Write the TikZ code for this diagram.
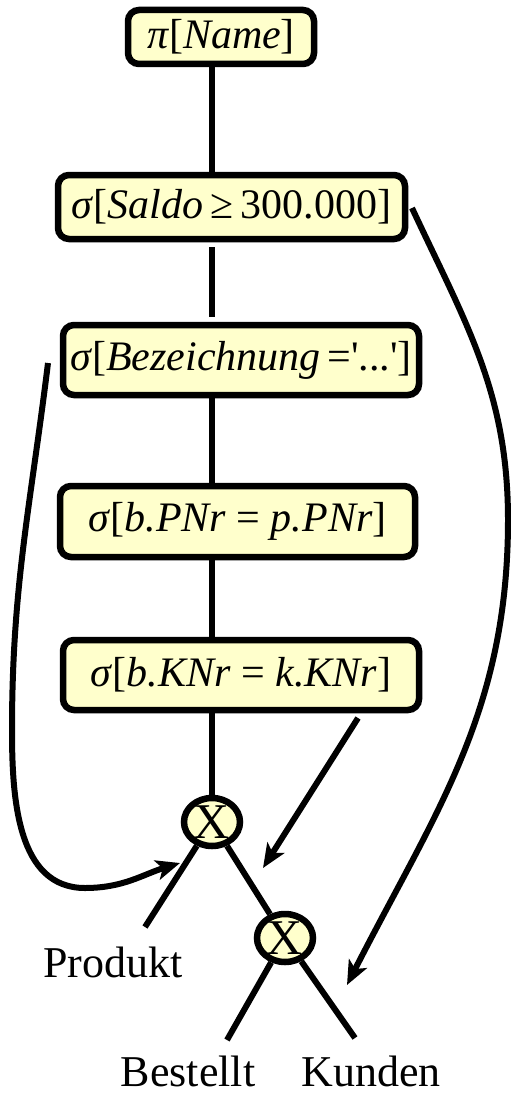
\documentclass[tikz,border=0pt]{standalone}
\usepackage{fontspec}
\setmainfont{Liberation Serif}
\usetikzlibrary{shapes.geometric,arrows.meta}
\definecolor{boxfill}{HTML}{FFFFCC}
\newcommand{\vv}[1]{\textit{#1}}
\newcommand{\sq}{\textquotesingle}
\newcommand{\sig}{\textit{σ}}
\begin{document}
\begin{tikzpicture}[x=1pt,y=-1pt,
  opbox/.style={draw=black,line width=6.5pt,rounded corners=11pt,fill=boxfill,
    inner sep=0pt,font=\fontsize{42}{50}\selectfont},
  xnode/.style={draw=black,line width=6.5pt,ellipse,fill=boxfill,inner sep=0pt,
    minimum width=56pt,minimum height=48pt,font=\fontsize{50}{56}\selectfont},
  leaf/.style={inner sep=0pt,anchor=base,font=\fontsize{44}{52}\selectfont},
  conn/.style={line width=6pt},
  arr/.style={line width=6pt,-{Stealth[length=24pt,width=20pt,inset=6pt]}}]
\useasboundingbox (0,0) rectangle (511,1097);
\node[opbox,minimum width=186pt,minimum height=54pt] (b1) at (221,37) {\textit{π}[\vv{Name}]};
\node[opbox,minimum width=347pt,minimum height=64pt] (b2) at (231.5,207) {\sig[\vv{Saldo}\,≥\,300.000]};
\node[opbox,minimum width=356pt,minimum height=70pt] (b3) at (241,360) {\sig[\vv{Bezeichnung}\,=\sq...\sq]};
\node[opbox,minimum width=355pt,minimum height=71pt] (b4) at (237.5,521.5) {\sig[\vv{b.PNr} = \vv{p.PNr}]};
\node[opbox,minimum width=356pt,minimum height=70pt] (b5) at (241,675) {\sig[\vv{b.KNr} = \vv{k.KNr}]};
\node[xnode] (x1) at (212,822) {X};
\node[xnode] (x2) at (285,938) {X};
\node[leaf] (prod) at (113,977) {Produkt};
\node[leaf] (best) at (188,1086) {Bestellt};
\node[leaf] (kund) at (371,1086) {Kunden};
\coordinate (pe) at (145,927);
\coordinate (be) at (227,1040);
\coordinate (ke) at (355,1038);
\coordinate (a5s) at (358,718);
\coordinate (a5t) at (263,868);
\coordinate (a2s) at (412,208);
\coordinate (a2m) at (508,520);
\coordinate (a2t) at (347,985);
\coordinate (a3s) at (48,363);
\coordinate (a3m) at (12,730);
\coordinate (a3b) at (85,888);
\coordinate (a3t) at (180,863);
\draw[conn] (b1.south -| x1) -- (b2.north -| x1);
\draw[conn,shorten >=5pt,shorten <=5pt] (b2.south -| x1) -- (b3.north -| x1);
\draw[conn] (b3.south -| x1) -- (b4.north -| x1);
\draw[conn] (b4.south -| x1) -- (b5.north -| x1);
\draw[conn] (b5.south -| x1) -- (x1);
\draw[conn] (x1) -- (pe);
\draw[conn] (x1) -- (x2);
\draw[conn] (x2) -- (be);
\draw[conn] (x2) -- (ke);
\draw[arr] (a5s) -- (a5t);
\draw[arr] (a2s) to[out=-65,in=90] (a2m) to[out=-90,in=63] (a2t);
\draw[arr] (a3s) to[out=-97,in=90] (a3m) to[out=-90,in=180] (a3b) to[out=0,in=197] (a3t);
\end{tikzpicture}
\end{document}
